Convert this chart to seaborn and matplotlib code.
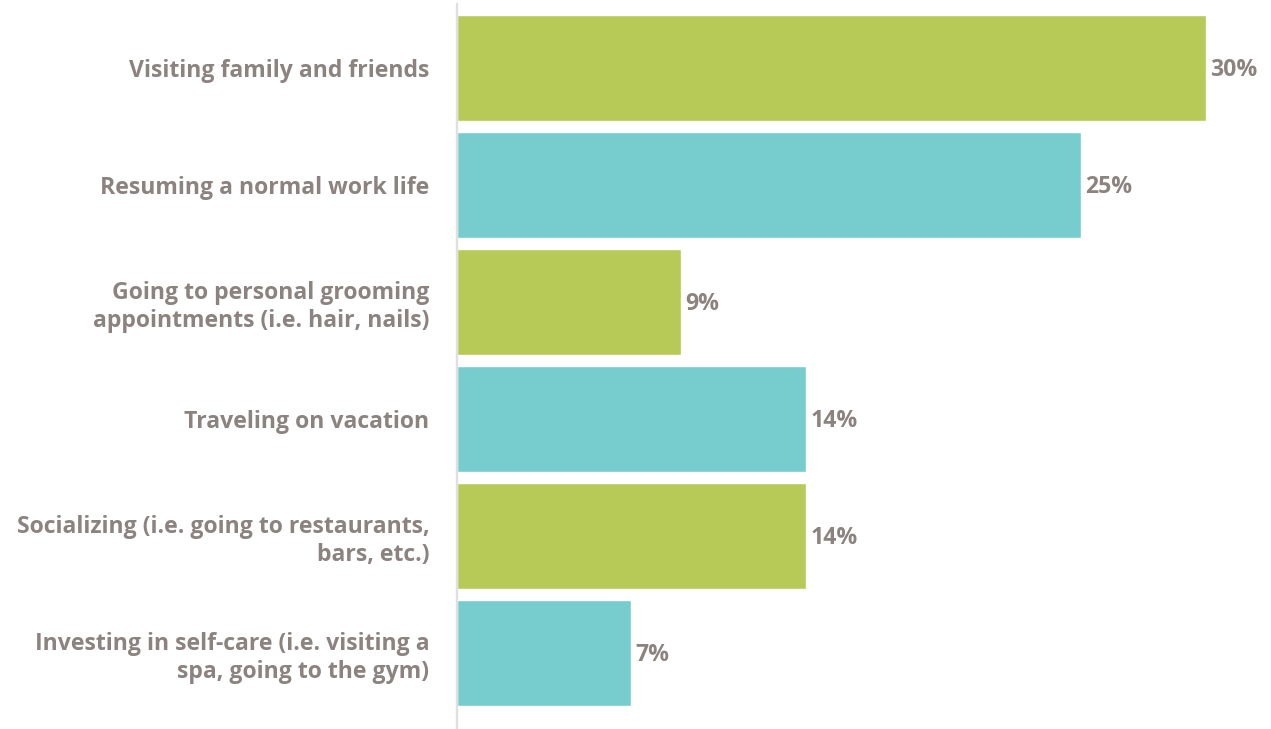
import matplotlib
matplotlib.use("Agg")
import matplotlib.pyplot as plt
import seaborn as sns
import pandas as pd

categories = [
    "Visiting family and friends",
    "Resuming a normal work life",
    "Going to personal grooming\nappointments (i.e. hair, nails)",
    "Traveling on vacation",
    "Socializing (i.e. going to restaurants,\nbars, etc.)",
    "Investing in self-care (i.e. visiting a\nspa, going to the gym)",
]
values = [30, 25, 9, 14, 14, 7]
value_labels = ["30%", "25%", "9%", "14%", "14%", "7%"]
colors = ["#b7c956", "#77cdcd", "#b7c956", "#77cdcd", "#b7c956", "#77cdcd"]

sns.set_theme(style="white")
plt.rcParams["font.family"] = ["Open Sans", "DejaVu Sans"]

df = pd.DataFrame({"cat": categories, "val": values})

W, H = 1271, 729
fig = plt.figure(figsize=(W / 100, H / 100), dpi=100)
ax = fig.add_axes([456.5 / W, 0, 1 - 456.5 / W, 1 - 4 / H])

sns.barplot(data=df, y="cat", x="val", hue="cat", palette=colors, legend=False,
            orient="h", width=0.906, saturation=1, ax=ax)

ax.set_xlim(0, (W - 456.5) / 24.97)
ax.set_ylim((729 - 68) / 117, (4 - 68) / 117)

txt_color = "#8c8380"
fs = 16.6
for i, (v, lab) in enumerate(zip(values, value_labels)):
    ax.annotate(lab, (v, i), xytext=(3.2, -1.3), textcoords="offset points",
                va="center", ha="left", fontsize=fs, fontweight="bold", color=txt_color)

ax.set_xlabel("")
ax.set_ylabel("")
ax.set_xticks([])
ax.tick_params(axis="y", length=0, pad=19.5)
for t in ax.get_yticklabels():
    t.set_fontsize(fs)
    t.set_fontweight("bold")
    t.set_color(txt_color)
    t.set_horizontalalignment("right")
    t.set_multialignment("right")
    t.set_linespacing(1.23)

for s in ["top", "right", "bottom"]:
    ax.spines[s].set_visible(False)
ax.spines["left"].set_color("#e0e0e0")
ax.spines["left"].set_linewidth(1.7)
ax.spines["left"].set_zorder(5)

fig.savefig("out.png", dpi=100)
